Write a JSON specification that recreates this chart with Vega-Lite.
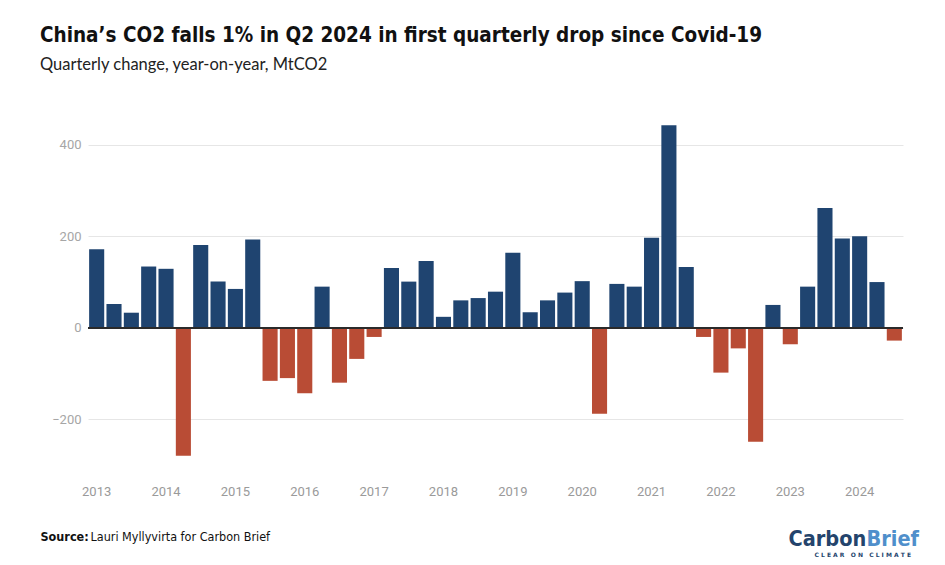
{
  "$schema": "https://vega.github.io/schema/vega-lite/v6.json",
  "width": 815,
  "height": 343,
  "autosize": {"type": "none"},
  "padding": {"left": 88, "top": 122, "right": 42, "bottom": 100},
  "background": "white",
  "title": {
    "text": "China’s CO2 falls 1% in Q2 2024 in first quarterly drop since Covid-19",
    "subtitle": "Quarterly change, year-on-year, MtCO2",
    "anchor": "start",
    "frame": "group",
    "dx": -48,
    "offset": 49,
    "font": "DejaVu Sans Condensed, sans-serif",
    "fontSize": 20.5,
    "fontWeight": "bold",
    "color": "#111111",
    "subtitleFont": "Lato, sans-serif",
    "subtitleFontSize": 16.5,
    "subtitleColor": "#222222",
    "subtitlePadding": 10
  },
  "data": {
    "values": [
      {"q": "2012-Q4", "v": 172}, {"q": "2013-Q1", "v": 52}, {"q": "2013-Q2", "v": 33}, {"q": "2013-Q3", "v": 134},
      {"q": "2013-Q4", "v": 129}, {"q": "2014-Q1", "v": -280}, {"q": "2014-Q2", "v": 181}, {"q": "2014-Q3", "v": 101},
      {"q": "2014-Q4", "v": 85}, {"q": "2015-Q1", "v": 193}, {"q": "2015-Q2", "v": -116}, {"q": "2015-Q3", "v": -110},
      {"q": "2015-Q4", "v": -143}, {"q": "2016-Q1", "v": 90}, {"q": "2016-Q2", "v": -120}, {"q": "2016-Q3", "v": -68},
      {"q": "2016-Q4", "v": -20}, {"q": "2017-Q1", "v": 131}, {"q": "2017-Q2", "v": 101}, {"q": "2017-Q3", "v": 146},
      {"q": "2017-Q4", "v": 24}, {"q": "2018-Q1", "v": 60}, {"q": "2018-Q2", "v": 65}, {"q": "2018-Q3", "v": 79},
      {"q": "2018-Q4", "v": 164}, {"q": "2019-Q1", "v": 34}, {"q": "2019-Q2", "v": 60}, {"q": "2019-Q3", "v": 77},
      {"q": "2019-Q4", "v": 102}, {"q": "2020-Q1", "v": -188}, {"q": "2020-Q2", "v": 96}, {"q": "2020-Q3", "v": 90},
      {"q": "2020-Q4", "v": 197}, {"q": "2021-Q1", "v": 443}, {"q": "2021-Q2", "v": 133}, {"q": "2021-Q3", "v": -20},
      {"q": "2021-Q4", "v": -98}, {"q": "2022-Q1", "v": -45}, {"q": "2022-Q2", "v": -249}, {"q": "2022-Q3", "v": 50},
      {"q": "2022-Q4", "v": -36}, {"q": "2023-Q1", "v": 90}, {"q": "2023-Q2", "v": 262}, {"q": "2023-Q3", "v": 195},
      {"q": "2023-Q4", "v": 200}, {"q": "2024-Q1", "v": 100}, {"q": "2024-Q2", "v": -28}
    ]
  },
  "layer": [
    {
      "layer": [
        {
          "mark": {"type": "bar"},
          "encoding": {
            "x": {
              "field": "q", "type": "ordinal", "sort": null,
              "scale": {"paddingInner": 0.13, "paddingOuter": 0.065},
              "axis": {
                "orient": "bottom",
                "values": ["2012-Q4","2013-Q4","2014-Q4","2015-Q4","2016-Q4","2017-Q4","2018-Q4","2019-Q4","2020-Q4","2021-Q4","2022-Q4","2023-Q4"],
                "labelExpr": "toString(toNumber(slice(datum.value,0,4))+1)",
                "labelAngle": 0,
                "labelFont": "Roboto, sans-serif",
                "labelFontSize": 13,
                "labelColor": "#9a9a9a",
                "labelPadding": 20,
                "ticks": false,
                "tickSize": 0,
                "domain": false,
                "grid": false,
                "title": "Source:",
                "titleFont": "DejaVu Sans Condensed, sans-serif",
                "titleFontSize": 12.5,
                "titleFontWeight": "bold",
                "titleColor": "#111111",
                "titleX": -48,
                "titleY": 75,
                "titleAlign": "left",
                "titleBaseline": "alphabetic"
              }
            },
            "y": {
              "field": "v", "type": "quantitative",
              "scale": {"domain": [-300, 450], "nice": false, "zero": true},
              "axis": {
                "values": [-200, 0, 200, 400],
                "grid": true,
                "gridColor": "#e6e6e6",
                "gridWidth": 1,
                "domain": false,
                "ticks": false,
                "tickSize": 0,
                "labelFont": "Roboto, sans-serif",
                "labelFontSize": 13,
                "labelColor": "#a6a6a6",
                "labelPadding": 7,
                "title": null
              }
            },
            "color": {
              "condition": {"test": "datum.v < 0", "value": "#b94c35"},
              "value": "#1f4470"
            }
          }
        },
        {
          "mark": {"type": "rule", "color": "#2a2a2a", "strokeWidth": 1.5},
          "encoding": {"y": {"datum": 0, "type": "quantitative"}}
        }
      ]
    },
    {
      "mark": {"type": "point", "opacity": 0},
      "encoding": {
        "x": {
          "field": "q", "type": "ordinal", "sort": null,
          "axis": {
            "orient": "bottom", "labels": false, "ticks": false, "domain": false, "grid": false,
            "title": "Lauri Myllyvirta for Carbon Brief",
            "titleFont": "DejaVu Sans Condensed, sans-serif",
            "titleFontSize": 12.5, "titleFontWeight": "normal", "titleColor": "#111111",
            "titleX": 2, "titleY": 75, "titleAlign": "left", "titleBaseline": "alphabetic"
          }
        }
      }
    },
    {
      "mark": {"type": "point", "opacity": 0},
      "encoding": {
        "x": {
          "field": "q", "type": "ordinal", "sort": null,
          "axis": {
            "orient": "bottom", "labels": false, "ticks": false, "domain": false, "grid": false,
            "title": "Carbon",
            "titleFont": "DejaVu Sans Condensed, sans-serif",
            "titleFontSize": 21.5, "titleFontWeight": "bold", "titleColor": "#24446c",
            "titleX": 700, "titleY": 80, "titleAlign": "left", "titleBaseline": "alphabetic"
          }
        }
      }
    },
    {
      "mark": {"type": "point", "opacity": 0},
      "encoding": {
        "x": {
          "field": "q", "type": "ordinal", "sort": null,
          "axis": {
            "orient": "bottom", "labels": false, "ticks": false, "domain": false, "grid": false,
            "title": "Brief",
            "titleFont": "DejaVu Sans Condensed, sans-serif",
            "titleFontSize": 21.5, "titleFontWeight": "bold", "titleColor": "#4f8fcb",
            "titleX": 778, "titleY": 80, "titleAlign": "left", "titleBaseline": "alphabetic"
          }
        }
      }
    },
    {
      "mark": {"type": "point", "opacity": 0},
      "encoding": {
        "x": {
          "field": "q", "type": "ordinal", "sort": null,
          "axis": {
            "orient": "bottom", "labels": false, "ticks": false, "domain": false, "grid": false,
            "title": "C\u00a0L\u00a0E\u00a0A\u00a0R\u00a0\u00a0\u00a0O\u00a0N\u00a0\u00a0\u00a0C\u00a0L\u00a0I\u00a0M\u00a0A\u00a0T\u00a0E",
            "titleFont": "DejaVu Sans, sans-serif",
            "titleFontSize": 6, "titleFontWeight": "bold", "titleColor": "#24446c",
            "titleX": 726, "titleY": 91, "titleAlign": "left", "titleBaseline": "alphabetic"
          }
        }
      }
    }
  ],
  "resolve": {"scale": {"x": "independent"}, "axis": {"x": "independent"}},
  "config": {"view": {"stroke": null}}
}
